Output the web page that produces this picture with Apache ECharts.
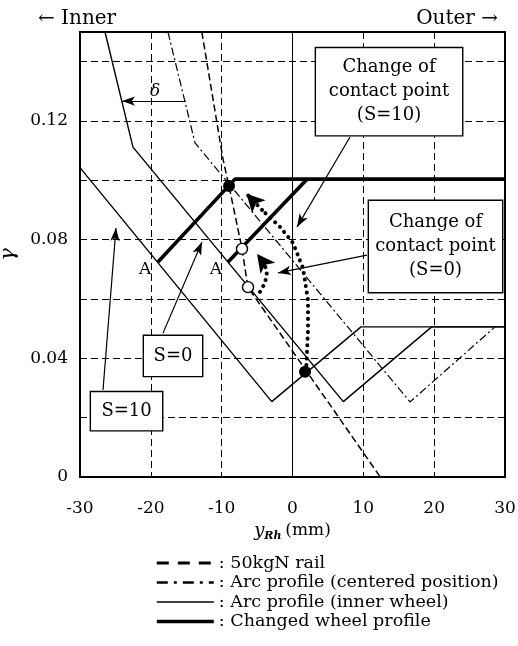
<!DOCTYPE html>
<html>
<head>
<meta charset="utf-8">
<script src="https://cdn.jsdelivr.net/npm/echarts@6/dist/echarts.min.js"></script>
<style>html,body{margin:0;padding:0;background:#fff}#c{width:518px;height:646px}</style>
</head>
<body>
<div id="c"></div>
<script>
// ---- data (x: y_Rh in mm, y: gamma) ----
const seriesNames = ['50kgN rail', 'Arc profile (centered position)', 'Arc profile (inner wheel)', 'Changed wheel profile'];
const railCurve = [[-12.8, 0.150], [-9.8, 0.107], [-8.96, 0.098], [-7.13, 0.077], [-6.3, 0.064], [12.4, 0.0]];
const arcCentered = [[-17.58, 0.150], [-13.76, 0.1126], [16.59, 0.0253], [28.59, 0.0506]];
const arcInnerS0 = [[-26.47, 0.150], [-22.52, 0.1112], [7.17, 0.0254], [19.65, 0.0506], [30, 0.0506]];
const arcInnerS10 = [[-30, 0.1043], [-2.93, 0.0254], [9.67, 0.0506], [30, 0.0506]];
const changedS10 = [[-19.0, 0.0725], [-8.12, 0.1004], [30, 0.1004]];
const changedS0 = [[-9.1, 0.0725], [2.05, 0.1004]];
const contactS10 = [[-8.96, 0.0981], [1.77, 0.0355]];
const contactS0 = [[-7.13, 0.0769], [-6.28, 0.0640]];
const pathS10 = [[1.91, 0.0355], [2.19, 0.0495], [2.19, 0.0597], [1.48, 0.0704], [0.07, 0.0789], [-1.76, 0.0843], [-4.30, 0.0900]];
const tipS10 = [-6.5, 0.0955];
const pathS0 = [[-4.59, 0.0624], [-3.88, 0.0654], [-3.60, 0.0691], [-4.02, 0.0721]];
const tipS0 = [-5.0, 0.0752];
const callouts = [
  [[8.12, 0.1146], [0.64, 0.0843]],
  [[10.52, 0.0748], [-2.05, 0.0688]],
  [[-18.28, 0.0485], [-12.78, 0.0792]],
  [[-26.75, 0.0293], [-24.92, 0.0839]],
  [[-15.03, 0.1267], [-24.07, 0.1267]]
];
const boxTexts = ['Change of\ncontact point\n(S=10)', 'Change of\ncontact point\n(S=0)', 'S=0', 'S=10'];
const boxAnchors = [[13.63, 0.1299], [20.19, 0.0777], [-16.87, 0.0408], [-23.43, 0.0222]];
const pointLabels = ['A', 'A', 'δ'];
const pointLabelAnchors = [[-20.82, 0.0698], [-10.80, 0.0698], [-19.41, 0.1298]];
const xTickMin = -30, xTickMax = 30, xTickStep = 10;
const yTickMin = 0, yTickMax = 0.15, yTickStep = 0.02;

// ---- styles ----
const FONT = 'DejaVu Serif';
const boxSizes = [[146, 87], [133, 91], [58, 40], [71, 38]];
const dotted = {color: '#000', width: 4, type: [0.1, 6.5], cap: 'round'};
const lineStyles = [
  {color: '#000', width: 1.5, type: [7, 3.5]},
  {color: '#000', width: 1.2, type: [8, 3, 2, 3]},
  {color: '#000', width: 1.4, type: 'solid'},
  {color: '#000', width: 3.6, type: 'solid'}
];
const legendLineStyles = [
  {color: '#000', width: 3, type: [12, 9]},
  {color: '#000', width: 2.6, type: [11, 6, 3, 6]},
  {color: '#000', width: 1.6, type: 'solid'},
  {color: '#000', width: 3.6, type: 'solid'}
];

const chart = echarts.init(document.getElementById('c'), null, {renderer: 'canvas'});

function lineSeries(name, data, ls, z) {
  return {name: name, type: 'line', data: data, symbol: 'none', showSymbol: false, silent: true,
    lineStyle: ls, itemStyle: {color: '#000'}, z: z || 3, animation: false};
}

const series = [
  lineSeries(seriesNames[0], railCurve, lineStyles[0]),
  lineSeries(seriesNames[1], arcCentered, lineStyles[1]),
  lineSeries(seriesNames[2], arcInnerS0, lineStyles[2]),
  lineSeries(seriesNames[2], arcInnerS10, lineStyles[2]),
  lineSeries(seriesNames[3], changedS10, lineStyles[3]),
  lineSeries(seriesNames[3], changedS0, lineStyles[3]),
  // x = 0 solid reference line
  {type: 'line', data: [], silent: true, animation: false,
    markLine: {silent: true, symbol: 'none', label: {show: false}, animation: false,
      lineStyle: {color: '#000', width: 1, type: 'solid'}, data: [{xAxis: 0}]}},
  // contact-point change paths
  {type: 'line', data: pathS10, symbol: 'none', silent: true, animation: false, lineStyle: dotted, z: 6,
    markLine: {silent: true, animation: false, symbol: ['none', 'arrow'], symbolSize: [14, 18], label: {show: false},
      lineStyle: dotted, data: [[{coord: pathS10[pathS10.length - 1]}, {coord: tipS10}]]}},
  {type: 'line', data: pathS0, symbol: 'none', silent: true, animation: false, lineStyle: dotted, z: 6,
    markLine: {silent: true, animation: false, symbol: ['none', 'arrow'], symbolSize: [14, 18], label: {show: false},
      lineStyle: dotted, data: [[{coord: pathS0[pathS0.length - 1]}, {coord: tipS0}]]}},
  // callout arrows
  {type: 'line', data: [], silent: true, animation: false, z: 7,
    markLine: {silent: true, animation: false, symbol: ['none', 'arrow'], symbolSize: [7, 13], label: {show: false},
      lineStyle: {color: '#000', width: 1.2, type: 'solid'},
      data: callouts.map(c => [{coord: c[0]}, {coord: c[1]}])}},
  // contact points
  {type: 'scatter', data: contactS10, symbol: 'circle', symbolSize: 12, silent: true, animation: false,
    itemStyle: {color: '#000', opacity: 1}, z: 8},
  {type: 'scatter', data: contactS0, symbol: 'circle', symbolSize: 11, silent: true, animation: false,
    itemStyle: {color: '#fff', borderColor: '#000', borderWidth: 1.4, opacity: 1}, z: 8},
  // boxes
  {type: 'scatter', itemStyle: {opacity: 1}, data: boxAnchors.map((p, i) => ({value: p, label: {
      show: true, position: 'inside', formatter: boxTexts[i],
      width: boxSizes[i][0], height: boxSizes[i][1], align: 'center', verticalAlign: 'middle',
      backgroundColor: '#fff', borderColor: '#000', borderWidth: 1.4,
      fontFamily: FONT, fontSize: 18, lineHeight: 24, color: '#000'}})),
    symbolSize: 0, silent: true, animation: false, z: 10},
  // point labels (A, delta)
  {type: 'scatter', itemStyle: {opacity: 1}, data: pointLabelAnchors.map((p, i) => ({value: p, label: {
      show: true, position: 'inside', formatter: pointLabels[i], fontFamily: FONT,
      fontSize: 17, fontStyle: i === 2 ? 'italic' : 'normal', color: '#000'}})),
    symbolSize: 0, silent: true, animation: false, z: 10}
];

const option = {
  backgroundColor: '#fff',
  animation: false,
  textStyle: {fontFamily: FONT, color: '#000'},
  grid: {left: 80, right: 13, top: 32, bottom: 169, containLabel: false, outerBoundsMode: 'none',
    show: true, borderColor: '#000', borderWidth: 2, backgroundColor: 'transparent'},
  xAxis: {
    type: 'value', min: xTickMin, max: xTickMax, interval: xTickStep,
    axisLine: {show: false}, axisTick: {show: false},
    splitLine: {show: true, lineStyle: {color: '#000', width: 1, type: [7, 4]}},
    axisLabel: {fontFamily: FONT, fontSize: 17, color: '#000', margin: 23},
    name: '{i|y}{s|Rh} {n|(mm)}', nameLocation: 'middle', nameGap: 42,
    nameTextStyle: {rich: {
      i: {fontFamily: FONT, fontStyle: 'italic', fontSize: 18, color: '#000', lineHeight: 22, verticalAlign: 'middle'},
      s: {fontFamily: FONT, fontStyle: 'italic', fontWeight: 'bold', fontSize: 11, color: '#000', lineHeight: 22, verticalAlign: 'bottom'},
      n: {fontFamily: FONT, fontSize: 17, color: '#000', lineHeight: 22, verticalAlign: 'middle'}
    }}
  },
  yAxis: {
    type: 'value', min: yTickMin, max: yTickMax, interval: yTickStep,
    axisLine: {show: false}, axisTick: {show: false},
    splitLine: {show: true, lineStyle: {color: '#000', width: 1, type: [7, 4]}},
    axisLabel: {fontFamily: FONT, fontSize: 17, color: '#000', margin: 12,
      formatter: v => (Math.round(v * 100) % 4 === 0) ? (Math.round(v * 100) === 0 ? '0' : v.toFixed(2)) : ''},
    name: 'γ', nameLocation: 'middle', nameGap: 58, nameRotate: 90,
    nameTextStyle: {fontFamily: FONT, fontStyle: 'italic', fontSize: 21, color: '#000'}
  },
  legend: {
    orient: 'vertical', left: 155, top: 554, itemWidth: 57, itemHeight: 14, itemGap: 1.5, padding: 0,
    selectedMode: false,
    itemStyle: {color: 'transparent', borderColor: 'transparent', borderWidth: 0, opacity: 0},
    data: seriesNames.map((n, i) => ({name: n, lineStyle: Object.assign({}, legendLineStyles[i]),
      itemStyle: {color: 'transparent', borderWidth: 0, opacity: 0}})),
    formatter: n => ': ' + n,
    textStyle: {fontFamily: FONT, fontSize: 17.5, lineHeight: 18, color: '#000'}
  },
  graphic: [
    {type: 'text', left: 38, top: 9, style: {text: '← Inner', font: '20px "DejaVu Serif"', fill: '#000'}},
    {type: 'text', right: 20, top: 9, style: {text: 'Outer →', font: '20px "DejaVu Serif"', fill: '#000'}}
  ],
  series: series
};
chart.setOption(option);
</script>
</body>
</html>
